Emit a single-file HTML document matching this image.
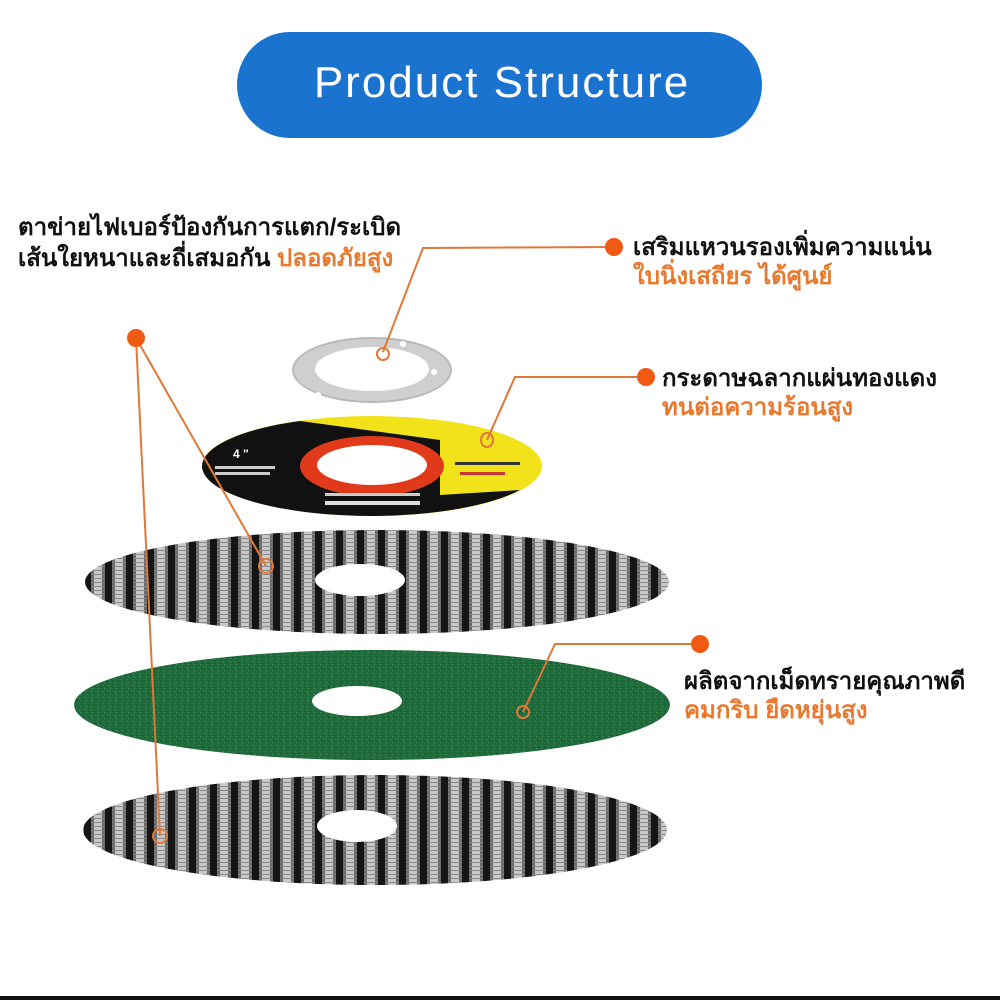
<!DOCTYPE html>
<html><head><meta charset="utf-8"><style>
html,body{margin:0;padding:0;background:#fff;}
svg{display:block}
text{font-family:"Liberation Sans","DejaVu Sans",sans-serif;}
</style></head><body>
<svg width="1000" height="1000" viewBox="0 0 1000 1000" xmlns="http://www.w3.org/2000/svg">
<defs>
<pattern id="mesh" x="0" y="0" width="21" height="4" patternUnits="userSpaceOnUse">
<rect width="21" height="4" fill="#c8c8c8"/>
<rect x="0" width="7" height="4" fill="#151515"/>
<rect x="7" width="3" height="4" fill="#6a6a6a"/>
<rect x="18" width="3" height="4" fill="#6a6a6a"/>
<rect x="7" y="2" width="14" height="1" fill="#888"/>
</pattern>
<pattern id="grit" width="6" height="6" patternUnits="userSpaceOnUse">
<rect width="6" height="6" fill="#1f6b3c"/>
<rect x="1" y="1" width="1" height="1" fill="#3f8a55"/>
<rect x="4" y="3" width="1" height="1" fill="#0f4a28"/>
<rect x="2" y="4" width="1" height="1" fill="#4a9560"/>
</pattern>
</defs>
<rect width="1000" height="1000" fill="#fff"/>
<rect x="0" y="996" width="1000" height="4" fill="#111"/>
<!-- title -->
<rect x="237" y="32" width="525" height="106" rx="53" fill="#1a73cf"/>
<text x="502" y="97" font-size="44" fill="#fff" text-anchor="middle" letter-spacing="2">Product Structure</text>

<!-- ring -->
<ellipse cx="372" cy="370" rx="80" ry="33" fill="#b9b9b9"/>
<ellipse cx="372" cy="370" rx="78" ry="31" fill="#cfcfcf"/>
<ellipse cx="372" cy="369" rx="57" ry="22" fill="#fff"/>
<circle cx="434" cy="372" r="3" fill="#fff"/><circle cx="318" cy="395" r="3" fill="#fff"/><circle cx="403" cy="344" r="3" fill="#fff"/>

<!-- label disc -->
<ellipse cx="372" cy="466" rx="170" ry="50" fill="#f2e21a"/>
<path d="M202,466 A170,50 0 0 1 300,421 L440,440 L440,495 L520,490 A170,50 0 0 1 372,516 A170,50 0 0 1 202,466 Z" fill="#111"/>
<ellipse cx="372" cy="466" rx="72" ry="30" fill="#e03a1a"/>
<ellipse cx="372" cy="465" rx="55" ry="20" fill="#fff"/>
<text x="233" y="458" font-size="12" fill="#fff" font-weight="bold">4 "</text>
<rect x="215" y="466" width="60" height="3" fill="#ccc"/><rect x="215" y="472" width="55" height="3" fill="#ccc"/>
<rect x="325" y="493" width="95" height="3" fill="#ccc"/><rect x="325" y="501" width="95" height="4" fill="#ddd"/>
<rect x="455" y="462" width="65" height="3" fill="#333"/><rect x="460" y="472" width="45" height="3" fill="#c33"/>

<!-- mesh top -->
<ellipse cx="377" cy="582" rx="292" ry="52" fill="url(#mesh)"/>
<ellipse cx="360" cy="580" rx="45" ry="16" fill="#fff"/>
<!-- green -->
<ellipse cx="372" cy="705" rx="298" ry="55" fill="url(#grit)"/>
<ellipse cx="357" cy="701" rx="45" ry="15" fill="#fff"/>
<!-- mesh bottom -->
<ellipse cx="375" cy="830" rx="292" ry="55" fill="url(#mesh)"/>
<ellipse cx="357" cy="826" rx="40" ry="16" fill="#fff"/>

<!-- connectors -->
<g stroke="#e0783a" stroke-width="2" fill="none">
<polyline points="614,247 423,248 383,352"/>
<polyline points="646,377 515,377 487,440"/>
<polyline points="700,644 555,644 523,712"/>
<line x1="136" y1="338" x2="266" y2="566"/>
<line x1="136" y1="338" x2="160" y2="836"/>
<ellipse cx="383" cy="354" rx="6" ry="6"/>
<ellipse cx="487" cy="440" rx="6" ry="7"/>
<ellipse cx="266" cy="566" rx="7" ry="7"/>
<ellipse cx="523" cy="712" rx="6" ry="6"/>
<ellipse cx="160" cy="836" rx="7" ry="7"/>
</g>
<g fill="#f05a12">
<circle cx="136" cy="338" r="9"/>
<circle cx="614" cy="247" r="9"/>
<circle cx="646" cy="377" r="9"/>
<circle cx="700" cy="644" r="9"/>
</g>

<!-- labels -->
<g font-size="24" font-weight="bold" fill="#111">
<text x="18" y="235">ตาข่ายไฟเบอร์ป้องกันการแตก/ระเบิด</text>
<text x="18" y="266">เส้นใยหนาและถี่เสมอกัน <tspan fill="#e8792e">ปลอดภัยสูง</tspan></text>
<text x="633" y="255">เสริมแหวนรองเพิ่มความแน่น</text>
<text x="633" y="284" fill="#e8792e">ใบนิ่งเสถียร ได้ศูนย์</text>
<text x="662" y="386">กระดาษฉลากแผ่นทองแดง</text>
<text x="662" y="415" fill="#e8792e">ทนต่อความร้อนสูง</text>
<text x="684" y="689">ผลิตจากเม็ดทรายคุณภาพดี</text>
<text x="684" y="718" fill="#e8792e">คมกริบ ยืดหยุ่นสูง</text>
</g>
</svg>
</body></html>
